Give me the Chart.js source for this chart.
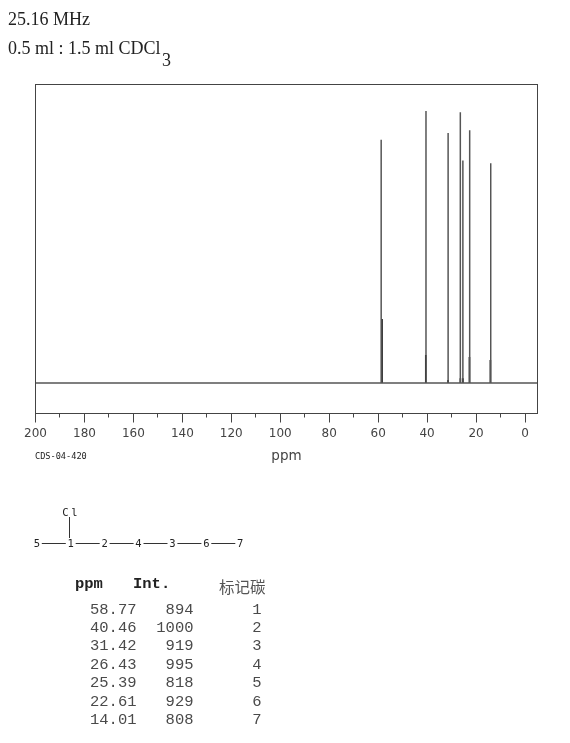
<!DOCTYPE html>
<html><head><meta charset="utf-8">
<style>
html,body{margin:0;padding:0;background:#fff}
#wrap{position:relative;width:570px;height:743px;overflow:hidden}
canvas{position:absolute;left:0;top:0}
.t{position:absolute;white-space:pre;line-height:1}
.serif{font-family:"Liberation Serif",serif;font-size:18px;color:#222}
.mono{font-family:"Liberation Mono",monospace;font-size:15.5px;color:#4a4a4a}
.lab{font-family:"DejaVu Sans Mono",monospace;font-size:10.5px;color:#222}
</style></head><body>
<div id="wrap"><canvas id="c" width="570" height="743"></canvas></div>
<script src="https://cdn.jsdelivr.net/npm/chart.js@4"></script>
<script>
const ppm=[58.77,40.46,31.42,26.43,25.39,22.61,14.01];
const intensity=[894,1000,919,995,818,929,808];
const carbon=[1,2,3,4,5,6,7];
const stubPpm=[58.45,40.55,31.42,26.4,25.4,22.7,14.15];
const stubInt=[235,103,11,18,18,96,85];
const tickValues=[200,190,180,170,160,150,140,130,120,110,100,90,80,70,60,50,40,30,20,10,0];
const xMin=-5.1,xMax=200,yMin=-110,yMax=1099;
const chainLabels=['5','1','2','4','3','6','7'];

const peakLine=[{x:xMax,y:0}];
ppm.forEach((p,i)=>{peakLine.push({x:p,y:0},{x:p,y:intensity[i]},{x:p,y:0});});
peakLine.push({x:xMin,y:0});
const stubLine=stubPpm.flatMap((p,i)=>[{x:p,y:0},{x:p,y:stubInt[i]},{x:p,y:NaN}]);

const frame={id:'frame',afterDraw(ch){
  const a=ch.chartArea,c=ch.ctx,s=ch.scales.x;
  c.save();c.strokeStyle='#444';c.lineWidth=1;
  c.strokeRect(Math.floor(a.left)+.5,Math.floor(a.top)+.5,Math.round(a.right-a.left),Math.round(a.bottom-a.top));
  tickValues.forEach(v=>{
    const x=Math.floor(s.getPixelForValue(v))+.5;
    c.beginPath();c.moveTo(x,a.bottom);c.lineTo(x,a.bottom+(v%20===0?9.5:4.5));c.stroke();
  });
  c.restore();
}};

new Chart(document.getElementById('c'),{
  type:'line',
  data:{datasets:[
    {data:peakLine,borderColor:'#555',borderWidth:1.5,pointRadius:0,tension:0,borderJoinStyle:'bevel',parsing:false},
    {data:stubLine,borderColor:'#000',borderWidth:1.6,pointRadius:0,tension:0,borderJoinStyle:'bevel',spanGaps:false,parsing:false}
  ]},
  options:{
    responsive:false,animation:false,events:[],
    layout:{padding:{left:35.5,right:32.5,top:84,bottom:278}},
    plugins:{legend:{display:false},tooltip:{enabled:false}},
    scales:{
      x:{type:'linear',reverse:true,min:xMin,max:xMax,
        afterBuildTicks:s=>{s.ticks=tickValues.map(v=>({value:v}));},
        afterFit:s=>{s.height=52;},
        grid:{display:false},border:{display:false},
        ticks:{autoSkip:false,maxRotation:0,padding:6,color:'#444',
          font:{family:'"DejaVu Sans"',size:12},
          callback:v=>v%20===0?String(v):''},
        title:{display:true,text:'ppm',color:'#444',padding:{top:4,bottom:0},
          font:{family:'"DejaVu Sans"',size:13.5}}
      },
      y:{display:false,min:yMin,max:yMax}
    }
  },
  plugins:[frame]
});

const wrap=document.getElementById('wrap');
function put(text,cls,x,y,align,extra){
  const d=document.createElement('div');d.className='t '+cls;d.textContent=text;
  d.style.top=y+'px';
  if(align==='right'){d.style.right=(570-x)+'px';}
  else if(align==='center'){d.style.left=x+'px';d.style.transform='translateX(-50%)';}
  else{d.style.left=x+'px';}
  if(extra)Object.assign(d.style,extra);
  wrap.appendChild(d);return d;
}
put('25.16 MHz','serif',8,10);
put('0.5 ml : 1.5 ml CDCl','serif',8,39);
put('3','serif',162,51);
put('CDS-04-420','lab',35,451.5,null,{fontSize:'8.6px',color:'#222'});

// structure
const svgNS='http://www.w3.org/2000/svg';
const svg=document.createElementNS(svgNS,'svg');
svg.setAttribute('width',570);svg.setAttribute('height',743);
svg.style.cssText='position:absolute;left:0;top:0';
function ln(x1,y1,x2,y2){const l=document.createElementNS(svgNS,'line');
  l.setAttribute('x1',x1);l.setAttribute('y1',y1);l.setAttribute('x2',x2);l.setAttribute('y2',y2);
  l.setAttribute('stroke','#333');l.setAttribute('stroke-width',1);svg.appendChild(l);}
wrap.appendChild(svg);
chainLabels.forEach((s,i)=>{
  const x=36.8+i*33.9;
  put(s,'lab',x,538,'center');
  if(i<chainLabels.length-1)ln(x+5,543.5,x+29,543.5);
});
ln(69.5,517,69.5,538);
put('C','lab',65.5,507,'center');
put('l','lab',74.5,507,'center');

// table
put('ppm','mono',75,577,null,{fontWeight:'bold',color:'#222'});
put('Int.','mono',133,577,null,{fontWeight:'bold',color:'#222'});
put('标记碳','mono',219,579,null,{fontFamily:'"Noto Sans CJK SC"',fontSize:'15.5px',color:'#555'});
ppm.forEach((p,i)=>{
  const y=602.5+i*18.4;
  put(p.toFixed(2),'mono',136.5,y,'right');
  put(String(intensity[i]),'mono',193.5,y,'right');
  put(String(carbon[i]),'mono',257,y,'center');
});
</script>
</body></html>
